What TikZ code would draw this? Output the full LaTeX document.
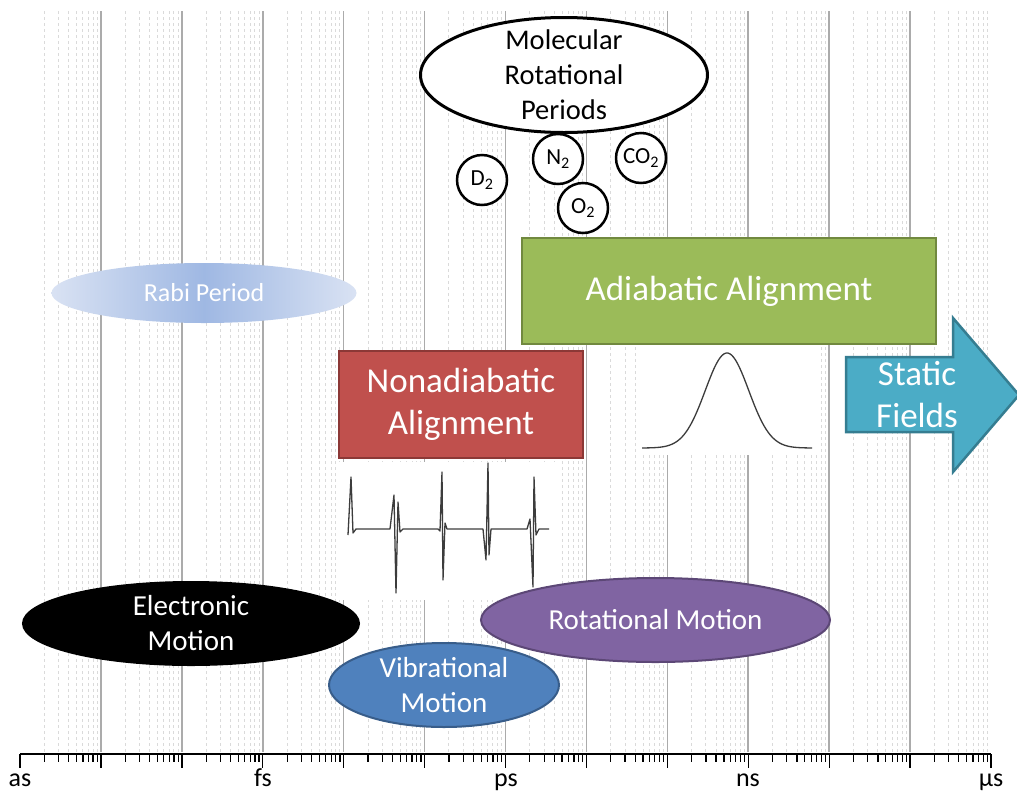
\documentclass[tikz,border=0pt]{standalone}
\usepackage{fontspec}
\setmainfont{Carlito}
\usetikzlibrary{shapes.geometric}

\definecolor{gridmajor}{HTML}{ABABAB}
\definecolor{gridminor}{HTML}{DADADA}
\definecolor{adiafill}{HTML}{9BBB59}
\definecolor{adiadraw}{HTML}{71893F}
\definecolor{nonafill}{HTML}{C0504D}
\definecolor{nonadraw}{HTML}{8C3836}
\definecolor{statfill}{HTML}{4BACC6}
\definecolor{statdraw}{HTML}{357D91}
\definecolor{rotfill}{HTML}{8064A2}
\definecolor{rotdraw}{HTML}{5C4776}
\definecolor{vibfill}{HTML}{4F81BD}
\definecolor{vibdraw}{HTML}{385D8A}
\definecolor{rabiedge}{HTML}{D9E2F3}
\definecolor{rabimid}{HTML}{9FB8E3}
\definecolor{trace}{HTML}{3C3C3C}

\tikzset{
  minorline/.style={gridminor,line width=1pt,dash pattern=on 3pt off 3pt},
  majorline/.style={gridmajor,line width=1.6pt},
  blob/.style={ellipse,inner sep=0pt,line width=2pt},
  molecule/.style={circle,draw=black,fill=white,line width=2.5pt,minimum size=50pt,inner sep=0pt,font=\fontsize{23}{26}\selectfont},
  regime/.style={rectangle,line width=2.5pt,text=white,align=center,font=\fontsize{35}{42}\selectfont},
  blobtext/.style={text=white,align=center,font=\fontsize{29}{35}\selectfont},
  unitlabel/.style={anchor=base,inner sep=0pt,font=\fontsize{26}{30}\selectfont}
}

\begin{document}
\begin{tikzpicture}[x=1pt,y=-1pt]
\useasboundingbox[fill=white] (0,0) rectangle (1017,793);

% grid, one decade every 80.92
\foreach \k in {0,...,11}{
  \foreach \m in {2,...,9}
    \draw[minorline] ({20+80.92*(\k+log10(\m))},11) -- ++(0,741);
}
\foreach \k in {1,...,11}
  \draw[majorline] ({20+80.92*\k},11) -- ++(0,741);

% time axis
\draw[line width=1.4pt] (20,754) -- (991,754);
\foreach \k in {0,...,12}
  \draw[line width=1.4pt] ({20+80.92*\k},754) -- ++(0,14);
\foreach \k in {0,...,11}{
  \foreach \m in {2,...,9}
    \draw[line width=1.2pt] ({20+80.92*(\k+log10(\m))},754) -- ++(0,8);
}
\node[unitlabel] (as) at (20,786) {as};
\node[unitlabel] (fs) at (263,786) {fs};
\node[unitlabel] (ps) at (506,786) {ps};
\node[unitlabel] (ns) at (748,786) {ns};
\node[unitlabel] (us) at (991,786) {µs};

% rotational periods
\node[blob,draw=black,fill=white,line width=3pt,minimum width=287pt,minimum height=115pt] (periods) at (564,75) {};
\node[align=center,font=\fontsize{28.5}{35}\selectfont] (periodstext) at (periods) {Molecular\\Rotational\\Periods};
\node[molecule] (d2) at (482,180) {D\textsubscript{2}};
\node[molecule] (n2) at (558,159) {N\textsubscript{2}};
\node[molecule] (co2) at (641,158) {CO\textsubscript{2}};
\node[molecule] (o2) at (583,208) {O\textsubscript{2}};

% Rabi period
\node[blob,left color=rabiedge,right color=rabiedge,middle color=rabimid,minimum width=305pt,minimum height=60pt] (rabi) at (204,293) {};
\node[text=white,font=\fontsize{26}{30}\selectfont] (rabitext) at (rabi) {Rabi Period};

% alignment regimes
\node[regime,draw=adiadraw,fill=adiafill,minimum width=414pt,minimum height=106pt] (adia) at (729,291) {Adiabatic Alignment};
\node[regime,draw=nonadraw,fill=nonafill,minimum width=244pt,minimum height=107pt] (nona) at (461,404.5) {Nonadiabatic\\Alignment};

% static fields arrow
\coordinate (tip) at (1019,395);
\draw[draw=statdraw,fill=statfill,line width=2.5pt,line join=miter]
  (846,357) -- (953,357) -- (953,318) -- (tip) -- (953,472) -- (953,432) -- (846,432) -- cycle;
\node[regime] (fields) at (917,395) {Static\\Fields};

% adiabatic pulse
\fill[white] (636,345) rectangle (820,455);
\draw[trace,line width=1.3pt] plot[domain=642:812,samples=90] (\x,{448-95*exp(-(\x-727)*(\x-727)/941.8)});

% nonadiabatic pulse train
\fill[white] (337,462) rectangle (558,600);
\draw[trace,line width=1.3pt,line join=round]
  (348,535) -- (351,477) -- (353,533) -- (356,529) -- (390,529)
  -- (394,495) -- (396,593) -- (398,502) -- (400,532) -- (403,529) -- (438,529)
  -- (440,531) -- (442,472) -- (443,580) -- (445,523) -- (447,529) -- (483,529)
  -- (486,560) -- (488,463) -- (489,555) -- (491,529) -- (527,529)
  -- (530,519) -- (533,587) -- (534,477) -- (536,535) -- (539,529) -- (549,529);

% motions
\node[blob,draw=black,fill=black,minimum width=336pt,minimum height=83pt] (elec) at (191,623.5) {};
\node[blobtext] (electext) at (elec) {Electronic\\Motion};
\node[blob,draw=rotdraw,fill=rotfill,minimum width=349pt,minimum height=84pt] (rot) at (655.5,620) {};
\node[blobtext] (rottext) at (rot) {Rotational Motion};
\node[blob,draw=vibdraw,fill=vibfill,minimum width=230pt,minimum height=84pt] (vib) at (444,685) {};
\node[blobtext] (vibtext) at (vib) {Vibrational\\Motion};
\end{tikzpicture}
\end{document}
